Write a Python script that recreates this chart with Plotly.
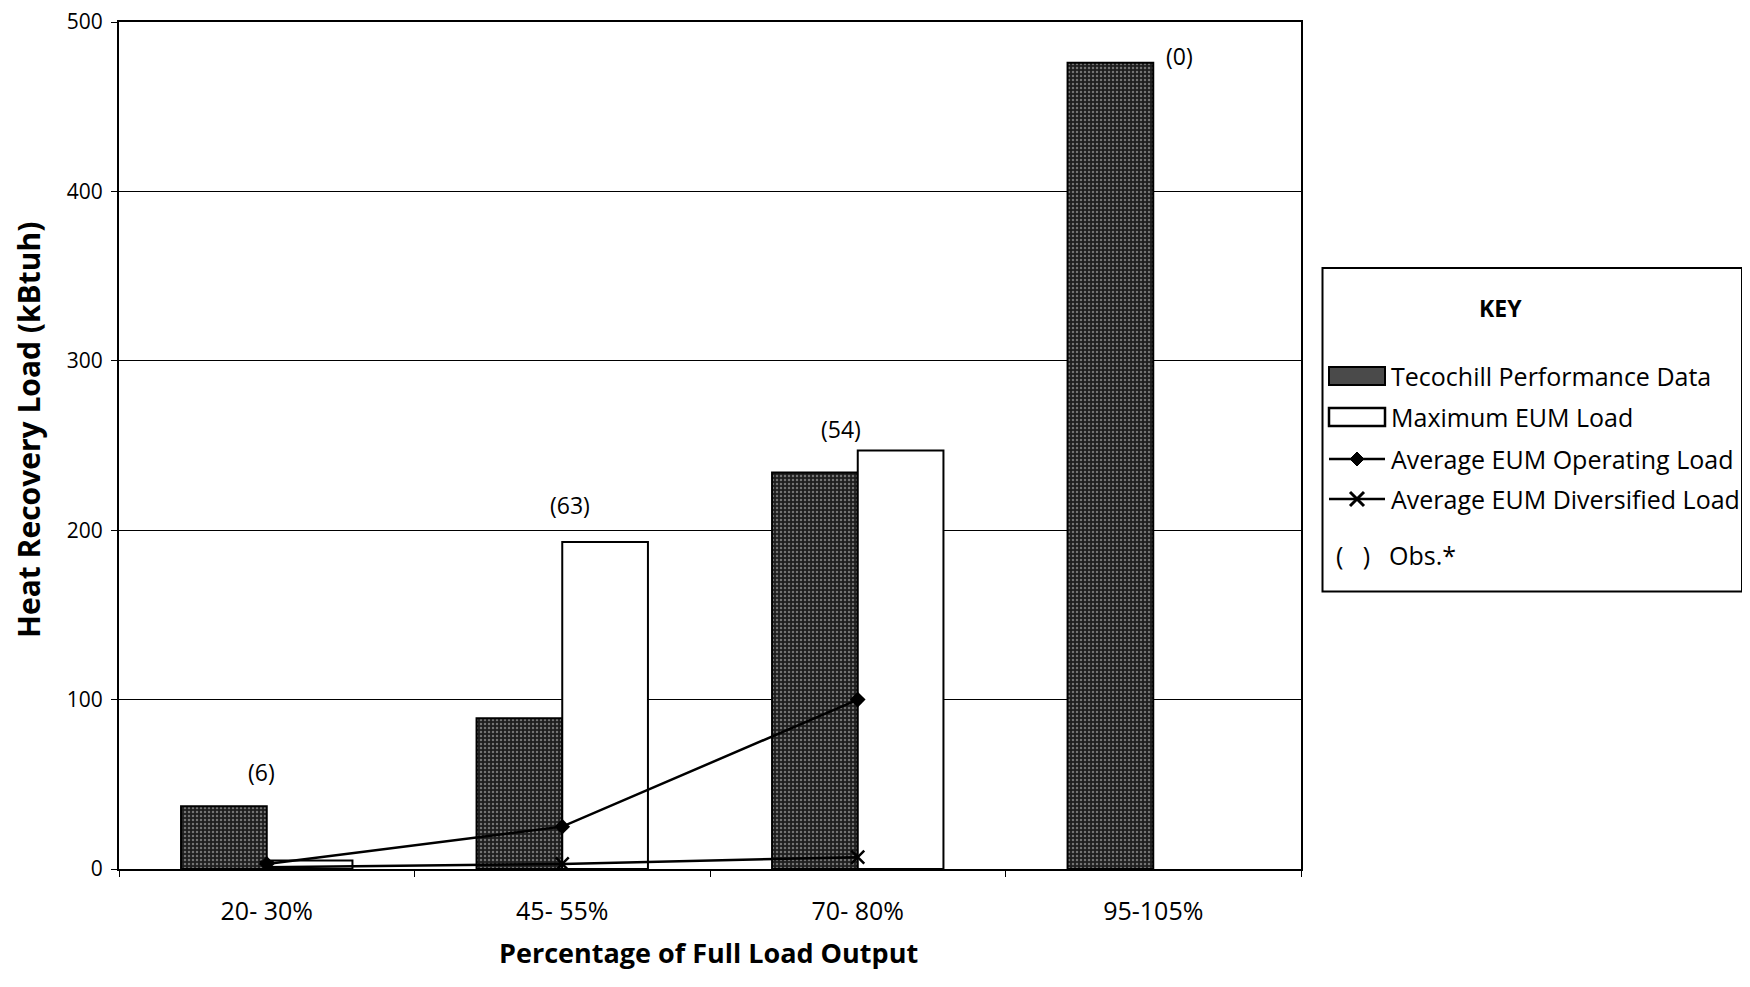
import plotly.graph_objects as go

categories = ["20- 30%", "45- 55%", "70- 80%", "95-105%"]
tecochill = [37, 89, 234, 476]
max_eum = [5, 193, 247, None]
line_cats = ["20- 30%", "45- 55%", "70- 80%"]
avg_operating = [3, 25, 100]
avg_diversified = [1, 3, 7]
obs_counts = [6, 63, 54, 0]
y_ticks = [0, 100, 200, 300, 400, 500]
legend_names = ["Tecochill Performance Data", "Maximum EUM Load",
                "Average EUM Operating Load", "Average EUM Diversified Load", "Obs.*"]

FONT = "Open Sans"
W, H = 1738, 969
L, T = 111, 14
R, B = W - 1293, H - 861
PW, PH = W - L - R, H - T - B


def px(x):
    return (x - L) / PW


def py(y):
    return 1 - (y - T) / PH


fig = go.Figure()
fig.add_trace(go.Bar(
    x=categories, y=tecochill, name=legend_names[0],
    marker=dict(color="#1e1e1e", line=dict(color="black", width=2),
                pattern=dict(shape=".", fgcolor="#c8c8c8", bgcolor="#1e1e1e", size=4, solidity=0.3)),
))
fig.add_trace(go.Bar(
    x=categories, y=max_eum, name=legend_names[1],
    marker=dict(color="white", line=dict(color="black", width=2)),
))
fig.add_trace(go.Scatter(
    x=line_cats, y=avg_operating, name=legend_names[2],
    mode="lines+markers", line=dict(color="black", width=2.5),
    marker=dict(symbol="diamond", size=12, color="black"),
))
fig.add_trace(go.Scatter(
    x=line_cats, y=avg_diversified, name=legend_names[3],
    mode="lines+markers", line=dict(color="black", width=2.5),
    marker=dict(symbol="x-thin", size=13, line=dict(color="black", width=2.5)),
))

# observation count labels
label_style = [(-5, 34), (8, 37), (-17, 22), (26, 7)]
for i, (cat, n) in enumerate(zip(categories, obs_counts)):
    top = max(v for v in (tecochill[i], max_eum[i]) if v is not None)
    xs, ys = label_style[i]
    fig.add_annotation(x=cat, y=top, text=f"({n})", showarrow=False,
                       xshift=xs, yshift=ys, font=dict(family=FONT, size=23, color="black"))

# axis titles
fig.add_annotation(x=px(21), y=py(422), xref="paper", yref="paper", textangle=-90,
                   text="<b>Heat Recovery Load (kBtuh)</b>", showarrow=False,
                   xanchor="center", yanchor="middle", font=dict(family=FONT, size=30, color="black"))
fig.add_annotation(x=px(700), y=py(945), xref="paper", yref="paper",
                   text="<b>Percentage of Full Load Output</b>", showarrow=False,
                   xanchor="center", yanchor="middle", font=dict(family=FONT, size=27, color="black"))

# ---- custom KEY box (legend) ----
shapes = []
annots = []
box_right = 1734
shapes.append(dict(type="rect", xref="paper", yref="paper",
                   x0=px(1314.5), x1=px(box_right), y0=py(259.9), y1=py(583.5),
                   line=dict(color="black", width=2), fillcolor="white", layer="above"))
annots.append(dict(x=px(1492), y=py(300), xref="paper", yref="paper", text="<b>KEY</b>",
                   showarrow=False, xanchor="center", yanchor="middle",
                   font=dict(family=FONT, size=23, color="black")))
rows = [368, 409, 451, 491, 547]
sx0, sx1, tx = 1321, 1377, 1381
shapes.append(dict(type="rect", xref="paper", yref="paper",
                   x0=px(sx0), x1=px(sx1), y0=py(rows[0] - 9), y1=py(rows[0] + 9),
                   line=dict(color="black", width=2), fillcolor="#4a4a4a", layer="above"))
shapes.append(dict(type="rect", xref="paper", yref="paper",
                   x0=px(sx0), x1=px(sx1), y0=py(rows[1] - 9), y1=py(rows[1] + 9),
                   line=dict(color="black", width=2.5), fillcolor="white", layer="above"))
for r in (rows[2], rows[3]):
    shapes.append(dict(type="line", xref="paper", yref="paper",
                       x0=px(sx0), x1=px(sx1), y0=py(r), y1=py(r),
                       line=dict(color="black", width=2.5), layer="above"))
cx = 1349
d = 7
c = rows[2]
shapes.append(dict(type="path", xref="paper", yref="paper", layer="above",
                   path=f"M {px(cx)},{py(c - d)} L {px(cx + d)},{py(c)} L {px(cx)},{py(c + d)} L {px(cx - d)},{py(c)} Z",
                   fillcolor="black", line=dict(color="black", width=1)))
c = rows[3]
for a, b in ((-1, 1), (1, -1)):
    shapes.append(dict(type="line", xref="paper", yref="paper", layer="above",
                       x0=px(cx - 7), x1=px(cx + 7), y0=py(c + 7 * a), y1=py(c + 7 * b),
                       line=dict(color="black", width=3)))
for r, name in zip(rows, legend_names):
    annots.append(dict(x=px(tx if name != "Obs.*" else 1379), y=py(r), xref="paper", yref="paper",
                       text=name, showarrow=False, xanchor="left", yanchor="middle",
                       font=dict(family=FONT, size=25, color="black")))
annots.append(dict(x=px(1345), y=py(rows[4]), xref="paper", yref="paper", text="(&nbsp;&nbsp;&nbsp;)",
                   showarrow=False, xanchor="center", yanchor="middle",
                   font=dict(family=FONT, size=25, color="black")))
for a in annots:
    fig.add_annotation(**a)
for s in shapes:
    fig.add_shape(**s)

fig.update_layout(
    width=W, height=H,
    margin=dict(l=L, r=R, t=T, b=B),
    paper_bgcolor="white", plot_bgcolor="white",
    barmode="group", bargap=0.42, bargroupgap=0,
    showlegend=False,
    font=dict(family=FONT, color="black"),
    xaxis=dict(
        showline=True, linecolor="black", linewidth=2, mirror=True,
        ticks="outside", tickson="boundaries", ticklen=6, tickcolor="black",
        tickfont=dict(family=FONT, size=25), showgrid=False, automargin=False,
        ticklabelstandoff=19,
    ),
    yaxis=dict(
        range=[0, 500], tickvals=y_ticks,
        showline=True, linecolor="black", linewidth=2, mirror=True,
        ticks="outside", ticklen=6, tickcolor="black",
        tickfont=dict(family=FONT, size=21), ticklabelstandoff=4, ticklabeloverflow="allow",
        showgrid=True, gridcolor="black", gridwidth=1, zeroline=False, automargin=False,
    ),
)

fig.write_html("out.html")
